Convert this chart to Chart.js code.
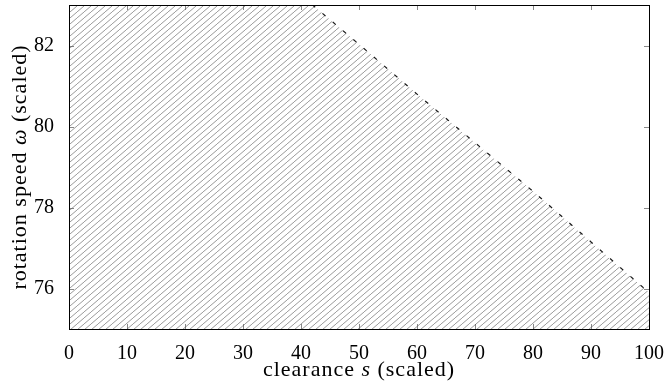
<!DOCTYPE html>
<html>
<head>
<meta charset="utf-8">
<script src="https://cdn.jsdelivr.net/npm/chart.js@4.4.1/dist/chart.umd.min.js"></script>
<style>
  html, body { margin: 0; padding: 0; background: #fff; }
</style>
</head>
<body>
<canvas id="grafica" width="668" height="383"></canvas>
<script>
// boundary of the admissible region (dashed curve)
const clearance = [0, 42, 50, 60, 70, 80, 90, 100];
const speed = [83, 83, 82.03, 80.8, 79.6, 78.4, 77.15, 75.9];
const xTicks = [0, 10, 20, 30, 40, 50, 60, 70, 80, 90, 100];
const yTicks = [76, 78, 80, 82];

const serif = "'Liberation Serif', 'DejaVu Serif', serif";

function hatchPattern(ctx) {
  const w = 7, h = 6;
  const tile = document.createElement("canvas");
  tile.width = w;
  tile.height = h;
  const g = tile.getContext("2d");
  g.strokeStyle = "#8f8f8f";
  g.lineWidth = 0.9;
  g.beginPath();
  g.moveTo(-w, 2 * h); g.lineTo(2 * w, -h);
  g.stroke();
  return ctx.createPattern(tile, "repeat");
}

// text made of plain and italic pieces, centred on (x, y)
function drawParts(ctx, parts, x, y, size) {
  ctx.letterSpacing = "1px";
  let total = 0;
  const widths = parts.map(p => {
    ctx.font = (p.italic ? "italic " : "") + size + "px " + serif;
    const w = ctx.measureText(p.text).width;
    total += w;
    return w;
  });
  let cx = x - total / 2;
  parts.forEach((p, i) => {
    ctx.font = (p.italic ? "italic " : "") + size + "px " + serif;
    ctx.fillText(p.text, cx, y);
    cx += widths[i];
  });
  ctx.letterSpacing = "0px";
}

const framePlugin = {
  id: "frame",
  afterDraw(chart) {
    const { ctx, chartArea: a, scales } = chart;
    ctx.save();
    // inward ticks on all four sides
    ctx.strokeStyle = "#555";
    ctx.lineWidth = 0.7;
    ctx.beginPath();
    xTicks.forEach(v => {
      const px = Math.round(scales.x.getPixelForValue(v)) + 0.5;
      ctx.moveTo(px, a.bottom); ctx.lineTo(px, a.bottom - 5);
      ctx.moveTo(px, a.top); ctx.lineTo(px, a.top + 5);
    });
    yTicks.forEach(v => {
      const py = Math.round(scales.y.getPixelForValue(v)) + 0.5;
      ctx.moveTo(a.left, py); ctx.lineTo(a.left + 5, py);
      ctx.moveTo(a.right, py); ctx.lineTo(a.right - 5, py);
    });
    ctx.stroke();
    // axis box
    ctx.strokeStyle = "#000";
    ctx.lineWidth = 1;
    ctx.strokeRect(Math.round(a.left) + 0.5, Math.round(a.top) + 0.5,
      Math.round(a.right - a.left), Math.round(a.bottom - a.top));
    // axis titles
    ctx.fillStyle = "#000";
    ctx.textBaseline = "middle";
    drawParts(ctx, [
      { text: "clearance " },
      { text: "s", italic: true },
      { text: " (scaled)" }
    ], (a.left + a.right) / 2, 370, 22);
    ctx.translate(20, (a.top + a.bottom) / 2);
    ctx.rotate(-Math.PI / 2);
    drawParts(ctx, [
      { text: "rotation speed " },
      { text: "ω", italic: true },
      { text: " (scaled)" }
    ], 0, 0, 22);
    ctx.restore();
  }
};

const canvas = document.getElementById("grafica");
const ctx = canvas.getContext("2d");

new Chart(canvas, {
  type: "line",
  data: {
    datasets: [{
      data: clearance.map((x, i) => ({ x: x, y: speed[i] })),
      borderColor: "#1a1a1a",
      borderWidth: 1.2,
      borderDash: [4, 9.5],
      pointRadius: 0,
      tension: 0,
      fill: "start",
      backgroundColor: hatchPattern(ctx)
    }]
  },
  options: {
    responsive: false,
    devicePixelRatio: 1,
    animation: false,
    layout: { padding: { top: 5, right: 19, left: 0, bottom: 0 } },
    plugins: { legend: { display: false }, tooltip: { enabled: false } },
    scales: {
      x: {
        type: "linear",
        min: 0,
        max: 100,
        grid: { display: false },
        border: { display: false },
        afterBuildTicks: s => { s.ticks = xTicks.map(v => ({ value: v })); },
        afterFit: s => { s.height = 54; s.paddingLeft = 0; s.paddingRight = 0; },
        ticks: { color: "#000", padding: 5, maxRotation: 0, font: { family: serif, size: 20 } }
      },
      y: {
        min: 75,
        max: 83,
        grid: { display: false },
        border: { display: false },
        afterBuildTicks: s => { s.ticks = yTicks.map(v => ({ value: v })); },
        afterFit: s => { s.width = 69; s.paddingTop = 0; s.paddingBottom = 0; },
        ticks: { color: "#000", padding: 7, font: { family: serif, size: 20 } }
      }
    }
  },
  plugins: [framePlugin]
});
</script>
</body>
</html>
